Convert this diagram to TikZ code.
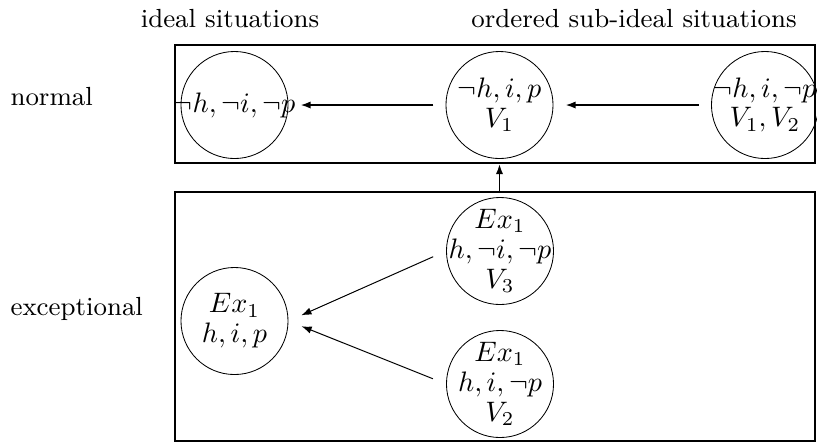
\documentclass[tikz,border=0pt]{standalone}
\usepackage{amsmath,amssymb}
\usetikzlibrary{arrows.meta,positioning,fit}

\begin{document}
\begin{tikzpicture}[
  x=0.355pt, y=-0.355pt,
  every node/.style={font=\fontsize{9.3}{11}\selectfont},
  sit/.style={draw,circle,line width=0.3pt,minimum size=38pt,inner sep=0pt},
  sittext/.style={align=center,inner sep=0pt,font=\fontsize{10}{10.6}\selectfont},
  frame/.style={draw,line width=0.7pt,inner sep=0pt},
  arr/.style={-{Latex[length=3.6pt,width=2.6pt]},line width=0.6pt},
  thinarr/.style={-{Latex[length=3.6pt,width=2.6pt]},line width=0.35pt}
]
\useasboundingbox (0,0) rectangle (817,443);
% situation groups
\node[frame,fit={(175,45) (815,163)}] (upper) {};
\node[frame,fit={(175,192) (815,441)}] (lower) {};
% headings
\node (ideal) at (230,19) {ideal situations};
\node (subideal) at (634,19) {ordered sub-ideal situations};
\node[anchor=base west,inner sep=0pt] (normal) at (10,105) {normal};
\node[anchor=base west,inner sep=0pt] (except) at (10,315) {exceptional};
% situations
\node[sit] (a) at (234.5,105) {};
\node[sit] (b) at (499.5,105) {};
\node[sit] (c) at (765,105) {};
\node[sit] (d) at (234.5,321) {};
\node[sit] (e) at (500,251) {};
\node[sit] (f) at (500,384) {};
\node[sittext] at (a) {$\neg h,\neg i,\neg p$};
\node[sittext] at (b) {$\neg h,i,p$\\$V_1$};
\node[sittext] at (c) {$\neg h,i,\neg p$\\$V_1,V_2$};
\node[sittext] at (d) {$Ex_1$\\$h,i,p$};
\node[sittext] at (e) {$Ex_1$\\$h,\neg i,\neg p$\\$V_3$};
\node[sittext] at (f) {$Ex_1$\\$h,i,\neg p$\\$V_2$};
% orderings
\draw[arr,shorten <=4.3pt,shorten >=4.3pt] (b.west) -- (a.east);
\draw[arr,shorten <=4.3pt,shorten >=4.3pt] (c.west) -- (b.east);
\draw[arr] (lower.north -| b) -- (upper.south -| b);
\draw[thinarr,shorten <=5pt,shorten >=5pt] (e.west) -- (d.east);
\draw[thinarr,shorten <=5pt,shorten >=5pt] (f.west) -- (d.east);
\end{tikzpicture}
\end{document}
